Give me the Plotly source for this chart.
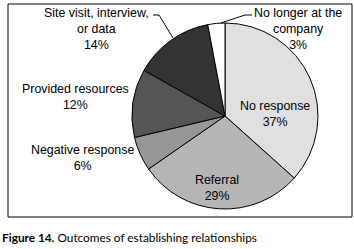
import plotly.graph_objects as go

W, H = 354, 249

categories = ["No response", "Referral", "Negative response", "Provided resources",
              "Site visit, interview, or data", "No longer at the company"]
values = [37, 29, 6, 12, 14, 3]
label_texts = ["No response", "Referral", "Negative response", "Provided resources",
               "Site visit, interview,<br>or data", "No longer at the<br>company"]
colors = ["#e0e0e0", "#b6b6b6", "#979797", "#555555", "#333333", "#ffffff"]

# label centre positions in pixels
label_pos = [(275, 114), (217, 188), (82, 158), (75, 97), (97, 29), (298, 29)]

def px(x):
    return x / W

def py(y):
    return 1 - y / H

cx, cy, r = 225, 116, 93

fig = go.Figure(go.Pie(
    labels=categories,
    values=values,
    sort=False,
    direction="clockwise",
    rotation=0,
    textinfo="none",
    hoverinfo="label+percent",
    marker=dict(colors=colors, line=dict(color="#000000", width=1)),
    domain=dict(x=[px(cx - r), px(cx + r)], y=[py(cy + r), py(cy - r)]),
    showlegend=False,
))

annotations = []
for txt, v, (x, y) in zip(label_texts, values, label_pos):
    annotations.append(dict(
        x=px(x), y=py(y), xref="paper", yref="paper",
        text=f"{txt}<br>{v}%", showarrow=False,
        font=dict(family="Liberation Sans, Arial, sans-serif", size=12.4, color="#000"),
        align="center", xanchor="center", yanchor="middle",
    ))

annotations.append(dict(
    x=px(0), y=py(237), xref="paper", yref="paper",
    text="<b>Figure 14.</b> Outcomes of establishing relationships",
    showarrow=False, xanchor="left", yanchor="middle", align="left",
    font=dict(family="Lato, Open Sans, sans-serif", size=11.8, color="#000"),
))

def path(points):
    d = "M " + " L ".join(f"{px(x)},{py(y)}" for x, y in points)
    return d

shapes = [
    dict(type="rect", xref="paper", yref="paper",
         x0=px(8), x1=px(352), y0=py(217), y1=py(4),
         line=dict(color="#000", width=1), fillcolor="rgba(0,0,0,0)"),
    dict(type="path", xref="paper", yref="paper",
         path=path([(153, 15), (159, 15), (173, 38)]),
         line=dict(color="#000", width=1)),
    dict(type="path", xref="paper", yref="paper",
         path=path([(252, 15), (245, 15), (221, 23)]),
         line=dict(color="#000", width=1)),
]

fig.update_layout(
    width=W, height=H,
    margin=dict(l=0, r=0, t=0, b=0),
    paper_bgcolor="#ffffff", plot_bgcolor="#ffffff",
    annotations=annotations, shapes=shapes,
)

fig.write_html("out.html",
               config={"displayModeBar": False},
               post_script="document.body.style.margin='0';document.body.style.overflow='hidden';")
